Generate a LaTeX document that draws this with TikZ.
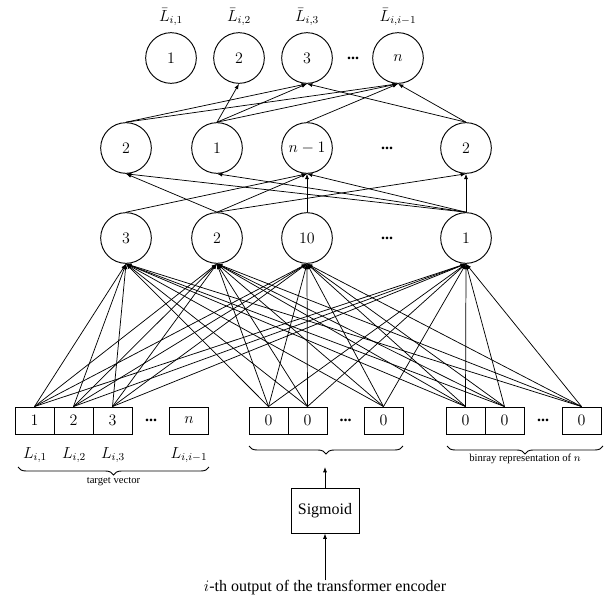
\documentclass[tikz,border=0pt]{standalone}
\usepackage{fontspec}
\setmainfont{Liberation Serif}
\usetikzlibrary{arrows.meta,decorations.pathreplacing}
\begin{document}
\begin{tikzpicture}[x=0.75pt,y=-0.75pt,
  neuron/.style={circle,draw,line width=0.7pt,minimum size=38pt,inner sep=0pt,font=\fontsize{12}{14}\selectfont},
  cell/.style={draw,line width=0.7pt,minimum width=29.25pt,minimum height=20.25pt,inner sep=0pt,font=\fontsize{12}{14}\selectfont},
  dotsnode/.style={font=\fontsize{12}{14}\selectfont\bfseries,inner sep=0pt},
  conn/.style={-{Latex[length=4pt,width=3pt]},line width=0.55pt},
  lbl/.style={font=\fontsize{12}{14}\selectfont,inner sep=0pt},
  small/.style={font=\fontsize{8}{9.6}\selectfont,inner sep=0pt},
  br/.style={decorate,decoration={brace,amplitude=6pt,mirror},line width=0.7pt}]
\useasboundingbox (0,0) rectangle (611,603);

% top layer
\node[neuron] (t1) at (171,58) {$1$};
\node[neuron] (t2) at (239,58) {$2$};
\node[neuron] (t3) at (307,58) {$3$};
\node[neuron] (t4) at (398,58) {$n$};
\node[dotsnode] (td) at (353,58) {...};
\node[lbl] (lt1) at (171,17) {$\bar{L}_{i,1}$};
\node[lbl] (lt2) at (239,17) {$\bar{L}_{i,2}$};
\node[lbl] (lt3) at (307,17) {$\bar{L}_{i,3}$};
\node[lbl] (lt4) at (398,17) {$\bar{L}_{i,i-1}$};

% second hidden layer
\node[neuron] (m1) at (126,148) {$2$};
\node[neuron] (m2) at (217,148) {$1$};
\node[neuron] (m3) at (307,148) {$n-1$};
\node[neuron] (m4) at (466,148) {$2$};
\node[dotsnode] (md) at (387,148) {...};

% first hidden layer
\node[neuron] (h1) at (126,238) {$3$};
\node[neuron] (h2) at (217,238) {$2$};
\node[neuron] (h3) at (307,238) {$10$};
\node[neuron] (h4) at (466,238) {$1$};
\node[dotsnode] (hd) at (387,238) {...};

% input boxes
\node[cell] (a1) at (34.5,420.5) {$1$};
\node[cell] (a2) at (73.5,420.5) {$2$};
\node[cell] (a3) at (112.5,420.5) {$3$};
\node[dotsnode] (ad) at (151,420.5) {...};
\node[cell] (a4) at (189,420.5) {$n$};
\node[cell] (b1) at (268.5,420.5) {$0$};
\node[cell] (b2) at (307.5,420.5) {$0$};
\node[dotsnode] (bd) at (345.5,420.5) {...};
\node[cell] (b3) at (383.5,420.5) {$0$};
\node[cell] (c1) at (465.5,420.5) {$0$};
\node[cell] (c2) at (504.5,420.5) {$0$};
\node[dotsnode] (cd) at (543,420.5) {...};
\node[cell] (c3) at (581.5,420.5) {$0$};

\node[lbl] (la1) at (35,455) {$L_{i,1}$};
\node[lbl] (la2) at (74,455) {$L_{i,2}$};
\node[lbl] (la3) at (113,455) {$L_{i,3}$};
\node[lbl] (la4) at (189,455) {$L_{i,i-1}$};

% braces
\draw[br] (18,467) -- (209,467);
\node[small] (tv) at (113.5,482) {target vector};
\draw[br] (249,446) -- (403,446);
\draw[br] (447,446) -- (603,446);
\node[small] (bn) at (525,459) {binray representation of $n$};

% sigmoid
\node[draw,line width=0.7pt,minimum width=51pt,minimum height=33.75pt,inner sep=0pt,font=\fontsize{12}{14}\selectfont] (sg) at (325,510.5) {Sigmoid};
\coordinate (bt) at (325,467);
\node[lbl] (enc) at (325,588) {$i$-th output of the transformer encoder};
\draw[conn] (sg) -- (bt);
\draw[conn] (enc.north) -- (sg.south);

% input -> first hidden
\foreach \s in {a1,a2,a3,b1,b2,b3,c1,c2,c3}
  \foreach \d in {h1,h2,h3,h4}
    \draw[conn] (\s.north) -- (\d.south);

% first hidden -> second hidden
\foreach \s/\d in {h1/m3,h2/m1,h2/m3,h2/m4,h3/m3,h4/m1,h4/m2,h4/m3,h4/m4}
  \draw[conn] (\s.north) -- (\d.south);

% second hidden -> output
\foreach \s/\d in {m1/t3,m1/t4,m2/t2,m2/t3,m2/t4,m3/t4,m4/t3,m4/t4}
  \draw[conn] (\s.north) -- (\d.south);
\end{tikzpicture}
\end{document}
